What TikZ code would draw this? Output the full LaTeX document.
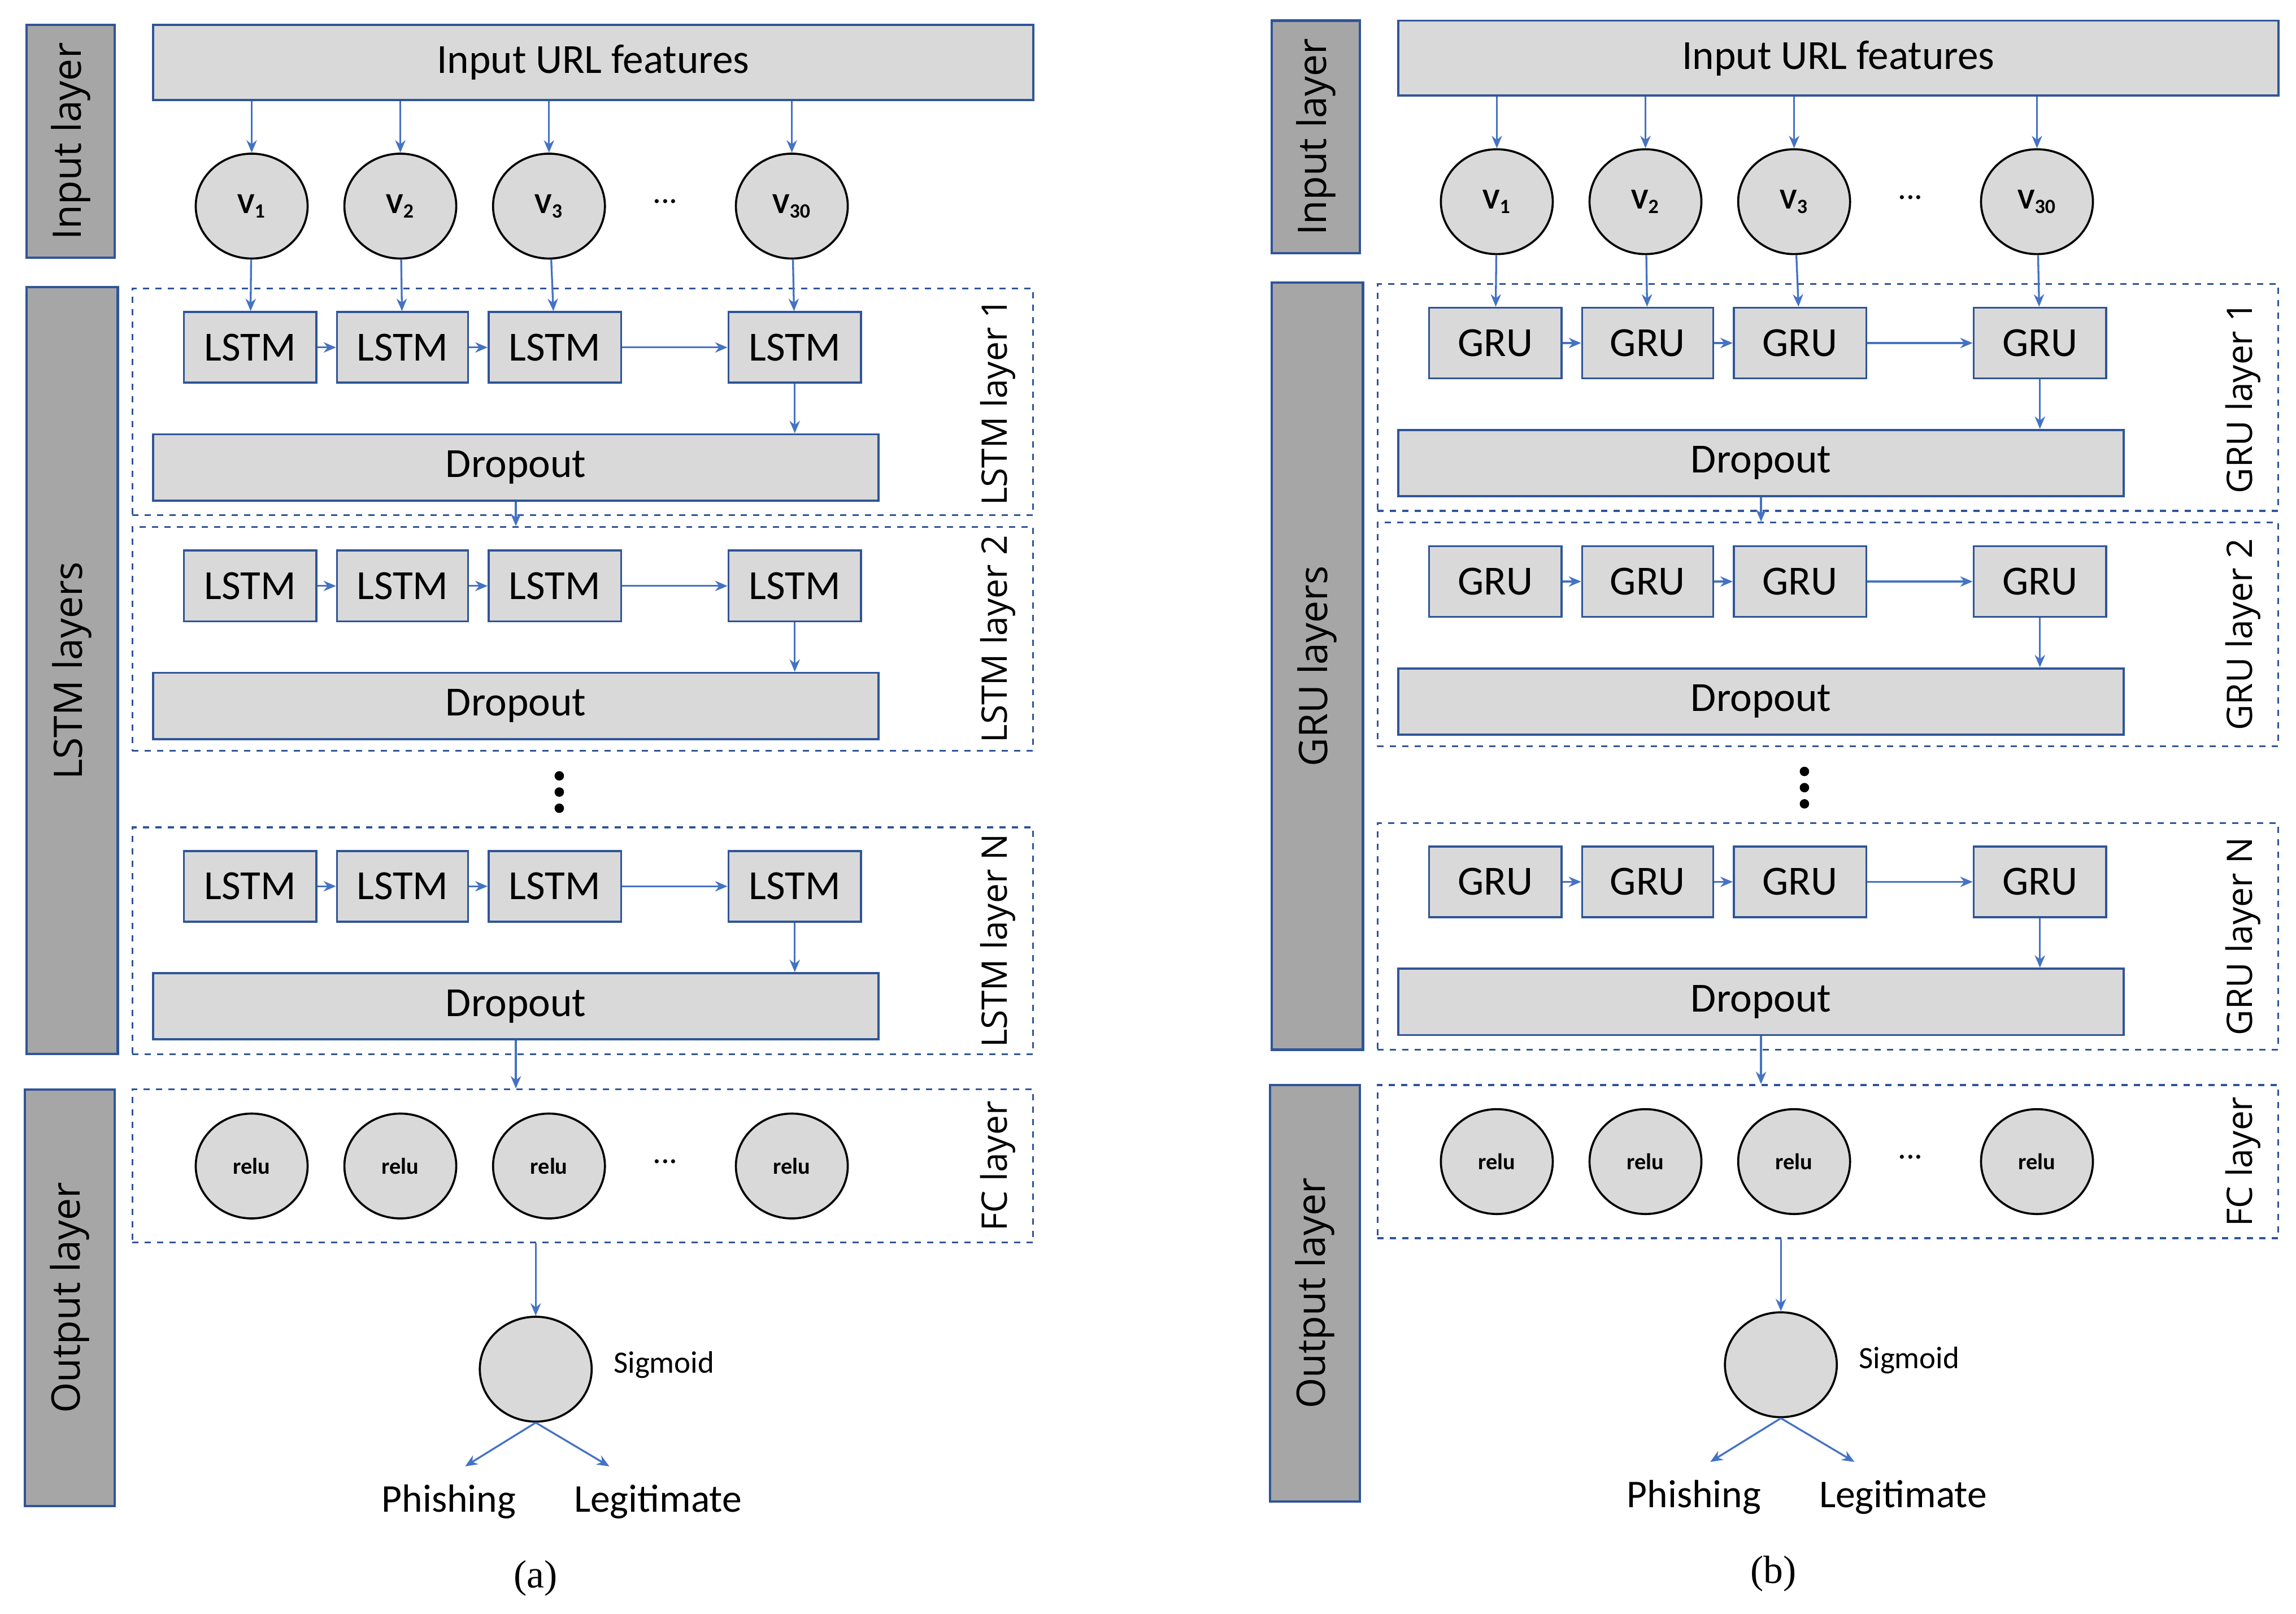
\documentclass[tikz,border=0pt]{standalone}
\usepackage{fontspec}
\setmainfont{Carlito}
\newfontfamily\sidef{Open Sans}
\newfontfamily\capf{Liberation Serif}
\usetikzlibrary{fit,shapes.geometric,arrows.meta}
\definecolor{bord}{HTML}{2F5597}
\definecolor{arr}{HTML}{4472C4}
\definecolor{lg}{HTML}{D9D9D9}
\definecolor{dg}{HTML}{A6A6A6}
\tikzset{
 box/.style={draw=bord,fill=lg,line width=1pt,inner sep=0pt,font=\fontsize{20}{24}\selectfont},
 side/.style={draw=bord,fill=dg,line width=1.2pt,inner sep=0pt},
 sidetxt/.style={rotate=90,font=\sidef\fontsize{19}{22}\selectfont},
 layer/.style={draw=bord,dashed,line width=0.9pt,inner sep=0pt},
 laytxt/.style={rotate=90,font=\sidef\fontsize{17}{20}\selectfont},
 ell/.style={ellipse,draw=black,fill=lg,line width=1pt,minimum width=1.9cm,minimum height=1.78cm,inner sep=0pt},
 ar/.style={draw=arr,line width=0.9pt,-{Stealth[length=6pt,width=5pt]}},
}
\newcommand\drawpanel[6]{%
\begin{scope}[shift={(#3,#4)}]
\node[side,fit={(18,17)(78,175)}] (#1s1) {}; \node[sidetxt] at (#1s1) {Input layer};
\node[side,fit={(18,195)(80,716)}] (#1s2) {}; \node[sidetxt] at (#1s2) {#2 layers};
\node[side,fit={(17,740)(78,1023)}] (#1s3) {}; \node[sidetxt] at (#1s3) {Output layer};
\node[box,fit={(104,17)(702,68)}] (#1in) {}; \node[font=\fontsize{20}{24}\selectfont] at (#1in) {Input URL features};
\node[ell,font=\bfseries\fontsize{14}{16}\selectfont] (#1v1) at (171,140) {V\textsubscript{1}};
\node[ell,font=\bfseries\fontsize{14}{16}\selectfont] (#1v2) at (272,140) {V\textsubscript{2}};
\node[ell,font=\bfseries\fontsize{14}{16}\selectfont] (#1v3) at (373,140) {V\textsubscript{3}};
\node[ell,font=\bfseries\fontsize{14}{16}\selectfont] (#1v4) at (538,140) {V\textsubscript{30}};
\node[font=\fontsize{16}{18}\selectfont] (#1vd) at (452,137) {...};
\foreach \i in {1,...,4} \draw[ar] (#1in.south -| #1v\i) -- (#1v\i);
\foreach \r/\yt/\yd/\dt/\db in {1/212/295/196/350, 2/374/457/358/510, N/578/661/562/716}{
 \node[layer,fit={(90,\dt)(702,\db)}] (#1L\r) {};
 \node[laytxt] at (678,{(\dt+\db)/2}) {#2 layer \r};
 \node[box,fit={(125,\yt)(215,\yt+48)}] (#1c\r a) {}; \node[font=\fontsize{20}{24}\selectfont] at (#1c\r a) {#2};
 \node[box,fit={(229,\yt)(318,\yt+48)}] (#1c\r b) {}; \node[font=\fontsize{20}{24}\selectfont] at (#1c\r b) {#2};
 \node[box,fit={(332,\yt)(422,\yt+48)}] (#1c\r c) {}; \node[font=\fontsize{20}{24}\selectfont] at (#1c\r c) {#2};
 \node[box,fit={(495,\yt)(585,\yt+48)}] (#1c\r d) {}; \node[font=\fontsize{20}{24}\selectfont] at (#1c\r d) {#2};
 \node[box,fit={(104,\yd)(597,\yd+45)}] (#1d\r) {}; \node[font=\fontsize{20}{24}\selectfont] at (#1d\r) {Dropout};
 \draw[ar] (#1c\r a) -- (#1c\r b);
 \draw[ar] (#1c\r b) -- (#1c\r c);
 \draw[ar] (#1c\r c) -- (#1c\r d);
 \draw[ar] (#1c\r d) -- (#1c\r d |- #1d\r.north);
}
\draw[ar] (#1v1) -- (#1c1a);
\draw[ar] (#1v2) -- (#1c1b);
\draw[ar] (#1v3) -- (#1c1c);
\draw[ar] (#1v4) -- (#1c1d);
\draw[ar] (#1d1.south) -- (#1d1.south |- #1L2.north);
\foreach \yy in {527,538,549} \fill (380,\yy) circle (3.2);
\node[layer,fit={(90,740)(702,844)}] (#1fc) {};
\node[laytxt] at (678,792) {FC layer};
\draw[ar] (#1dN.south) -- (#1dN.south |- #1fc.north);
\foreach \i/\x in {1/171,2/272,3/373,4/538} \node[ell,font=\bfseries\fontsize{11}{13}\selectfont] (#1r\i) at (\x,792) {relu};
\node[font=\fontsize{16}{18}\selectfont] at (452,789) {...};
\node[ell] (#1sig) at (364,930) {};
\node[anchor=west,font=\fontsize{15}{18}\selectfont] at (412,927) {Sigmoid};
\draw[ar] (#1fc.south -| #1sig) -- (#1sig);
\coordinate (#1pp) at (316,996);
\coordinate (#1ll) at (414,996);
\draw[ar] (#1sig.south) -- (#1pp);
\draw[ar] (#1sig.south) -- (#1ll);
\node[font=\fontsize{19}{22}\selectfont] at (305,1020) {Phishing};
\node[font=\fontsize{19}{22}\selectfont] at (447,1020) {Legitimate};
\node[font=\capf\fontsize{19}{22}\selectfont] at (#5,1072) {(#6)};
\end{scope}}
\begin{document}
\begin{tikzpicture}[x=0.025cm,y=-0.025cm]
\useasboundingbox (0,0) rectangle (1560,1096);
\drawpanel{A}{LSTM}{0}{0}{364}{a}
\drawpanel{B}{GRU}{846}{-3}{359}{b}
\end{tikzpicture}
\end{document}
